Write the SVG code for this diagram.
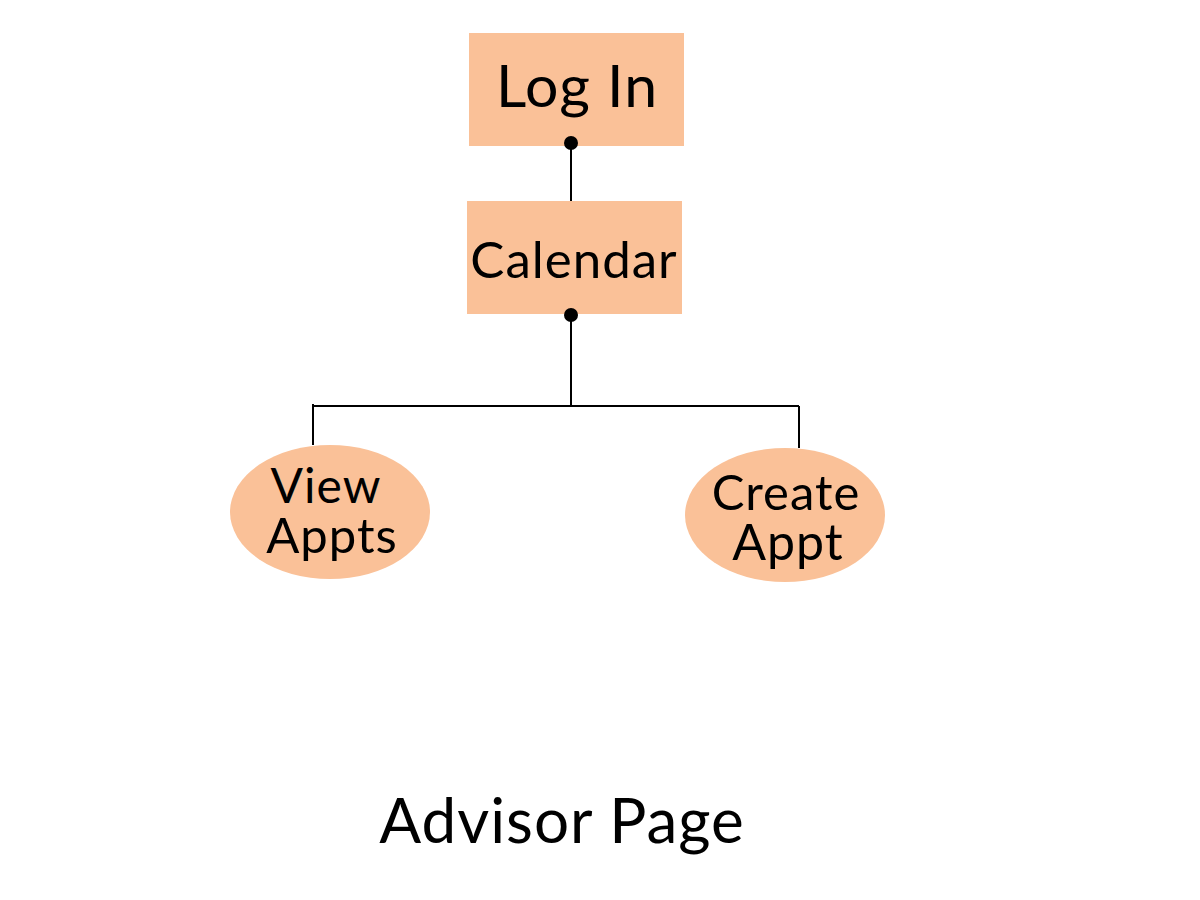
<svg xmlns="http://www.w3.org/2000/svg" width="1200" height="900" viewBox="0 0 1200 900">
<style>
.box{fill:#FAC198}
.t{font-family:Lato,"Noto Sans","Liberation Sans",sans-serif;fill:#000;text-anchor:middle;letter-spacing:1px}
.c{stroke:#000;stroke-width:2;fill:none}
.dot{fill:#000}
</style>
<rect width="1200" height="900" fill="#fff"/>
<g id="login">
<rect class="box" x="469" y="33" width="215" height="113"/>
<text class="t" x="577" y="107" font-size="59">Log In</text>
</g>
<g id="calendar">
<rect class="box" x="467" y="201" width="215" height="113"/>
<text class="t" x="574" y="278" font-size="51">Calendar</text>
</g>
<g id="viewappts">
<ellipse class="box" cx="330" cy="512" rx="100" ry="67"/>
<text class="t" x="326" y="503" font-size="48">View</text>
<text class="t" x="332" y="553" font-size="49">Appts</text>
</g>
<g id="createappt">
<ellipse class="box" cx="785" cy="515" rx="100" ry="67"/>
<text class="t" x="786" y="510" font-size="49">Create</text>
<text class="t" x="788" y="560" font-size="50">Appt</text>
</g>
<g id="connectors">
<path class="c" d="M571 143V201"/>
<circle class="dot" cx="571" cy="143" r="7"/>
<path class="c" d="M571 315V406M313 406H799M313 404V445M799 406V448"/>
<circle class="dot" cx="571" cy="315" r="7"/>
</g>
<text class="t" x="562" y="843" font-size="62">Advisor Page</text>
</svg>
